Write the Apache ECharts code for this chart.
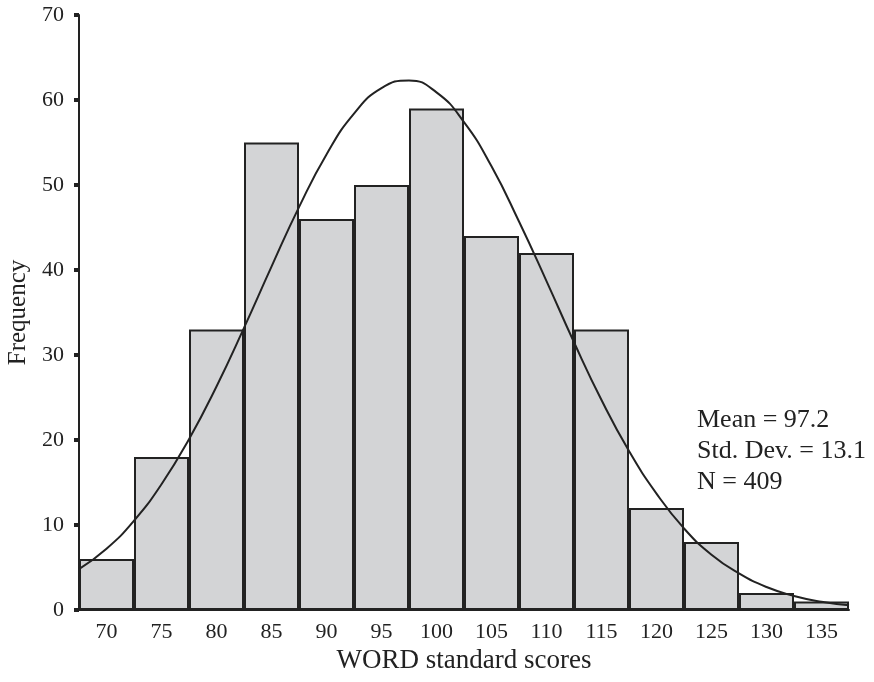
<!DOCTYPE html>
<html>
<head>
<meta charset="utf-8">
<script src="https://cdn.jsdelivr.net/npm/echarts@6/dist/echarts.min.js"></script>
<style>
  html, body { margin: 0; padding: 0; background: #fff; }
  #chart { width: 874px; height: 682px; }
</style>
</head>
<body>
<div id="chart"></div>
<script>
// histogram bins (centres) and counts
const binLabels = ['70', '75', '80', '85', '90', '95', '100', '105', '110', '115', '120', '125', '130', '135'];
const counts = [6, 18, 33, 55, 46, 50, 59, 44, 42, 33, 12, 8, 2, 1];

// fitted normal curve
const curveX = [67.5, 70, 72.5, 75, 77.5, 80, 82.5, 85, 87.5, 90, 92.5, 95, 97.5, 100,
                102.5, 105, 107.5, 110, 112.5, 115, 117.5, 120, 122.5, 125, 127.5, 130, 132.5, 135, 137.5];
const curveY = [4.8, 7.2, 10.5, 14.8, 20.1, 26.3, 33.2, 40.4, 47.4, 53.6, 58.4, 61.4, 62.3, 60.9,
                57.4, 52.2, 45.7, 38.7, 31.5, 24.7, 18.7, 13.7, 9.6, 6.5, 4.3, 2.7, 1.65, 0.97, 0.55];

const statLines = ['Mean = 97.2', 'Std. Dev. = 13.1', 'N = 409'];

const font = 'Liberation Serif';
const ink = '#222';

const chart = echarts.init(document.getElementById('chart'));
chart.setOption({
    backgroundColor: '#fff',
    animation: false,
    textStyle: { fontFamily: font, color: ink },
    grid: { left: 79, right: 25, top: 15, bottom: 72, containLabel: false, outerBoundsMode: 'none' },
    xAxis: [{
        type: 'category',
        data: binLabels,
        boundaryGap: true,
        name: 'WORD standard scores',
        nameLocation: 'middle',
        nameGap: 35,
        nameTextStyle: { fontFamily: font, fontSize: 27, color: ink },
        axisLine: { lineStyle: { color: ink, width: 2 } },
        axisTick: { alignWithLabel: true, length: 5, lineStyle: { color: ink, width: 4 } },
        axisLabel: { fontFamily: font, fontSize: 22, color: ink, margin: 11 },
        splitLine: { show: false }
    }, {
        type: 'value',
        min: 67.5,
        max: 137.5,
        show: false
    }],
    yAxis: {
        type: 'value',
        min: 0,
        max: 70,
        interval: 10,
        name: 'Frequency',
        nameLocation: 'middle',
        nameGap: 47,
        nameTextStyle: { fontFamily: font, fontSize: 25, color: ink },
        axisLine: { show: true, lineStyle: { color: ink, width: 2 } },
        axisTick: { show: true, length: 5, lineStyle: { color: ink, width: 4 } },
        axisLabel: { fontFamily: font, fontSize: 22, color: ink, margin: 15 },
        splitLine: { show: false }
    },
    series: [{
        type: 'bar',
        data: counts,
        barCategoryGap: '0%',
        itemStyle: { color: '#d3d4d6', borderColor: ink, borderWidth: 2 }
    }, {
        type: 'line',
        xAxisIndex: 1,
        data: curveX.map((x, i) => [x, curveY[i]]),
        smooth: true,
        showSymbol: false,
        lineStyle: { color: ink, width: 2 },
        z: 5
    }],
    graphic: [{
        type: 'text',
        left: 697,
        top: 405,
        style: {
            text: statLines.join('\n'),
            font: '26px "Liberation Serif"',
            fill: ink,
            lineHeight: 31
        }
    }]
});
</script>
</body>
</html>
